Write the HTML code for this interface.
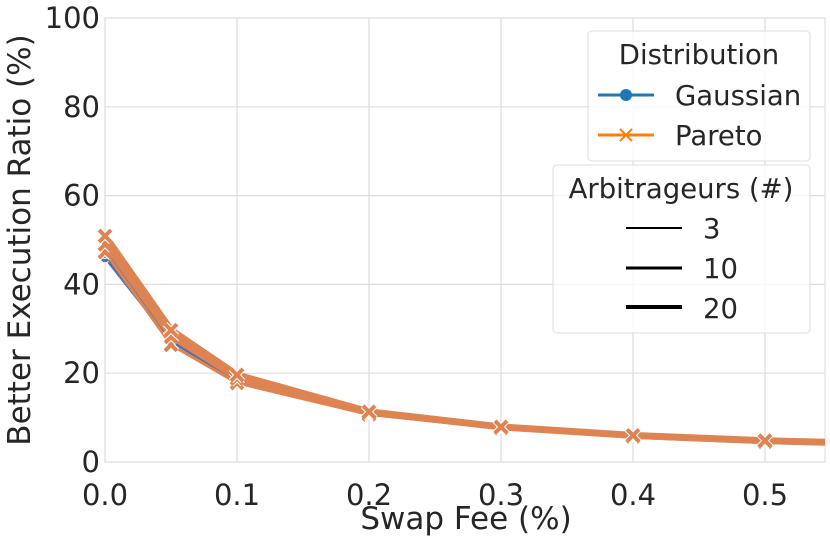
<!DOCTYPE html>
<html><head><meta charset="utf-8"><style>
body{margin:0;background:#fff;}
svg{display:block;font-family:"DejaVu Sans","Liberation Sans",sans-serif;}
</style></head><body>
<svg id="chart" width="830" height="541" viewBox="0 0 830 541">
<g id="grid"></g>
<g id="series"></g>
<g id="axes"></g>
<text x="466" y="529" font-size="31" fill="#262626" text-anchor="middle">Swap Fee (%)</text>
<text transform="translate(30,240) rotate(-90)" font-size="31" fill="#262626" text-anchor="middle">Better Execution Ratio (%)</text>
<g>
<rect x="588" y="31" width="222" height="130" rx="4" fill="#fff" fill-opacity="0.8" stroke="#ddd"/>
<text x="699" y="64" font-size="27.5" fill="#262626" text-anchor="middle">Distribution</text>
<g><line x1="598" y1="95" x2="654" y2="95" stroke="#1f77b4" stroke-width="3"/><circle cx="626" cy="95" r="6" fill="#1f77b4"/><text x="675" y="105" font-size="27.5" fill="#262626">Gaussian</text></g>
<g><line x1="598" y1="135" x2="654" y2="135" stroke="#ff7f0e" stroke-width="3"/><path d="M620 129 L632 141 M632 129 L620 141" stroke="#ff7f0e" stroke-width="2"/><text x="675" y="145" font-size="27.5" fill="#262626">Pareto</text></g>
</g>
<g>
<rect x="553" y="165" width="257" height="168" rx="4" fill="#fff" fill-opacity="0.8" stroke="#ddd"/>
<text x="681" y="198" font-size="27.5" fill="#262626" text-anchor="middle">Arbitrageurs (#)</text>
<g><line x1="626" y1="228" x2="682" y2="228" stroke="#000" stroke-width="2"/><text x="703" y="238" font-size="27.5" fill="#262626">3</text></g>
<g><line x1="626" y1="268" x2="682" y2="268" stroke="#000" stroke-width="3"/><text x="703" y="278" font-size="27.5" fill="#262626">10</text></g>
<g><line x1="626" y1="307" x2="682" y2="307" stroke="#000" stroke-width="4"/><text x="703" y="318" font-size="27.5" fill="#262626">20</text></g>
</g>
</svg>
<script>
const fees=[0,0.05,0.1,0.2,0.3,0.4,0.5,0.6];
const gauss3=[46,27.2,18.0,10.8,7.6,5.7,4.5,3.8];
const gauss10=[47,27.8,18.4,11.0,7.7,5.8,4.6,3.9];
const gauss20=[47.5,28.2,18.6,11.1,7.8,5.8,4.6,3.9];
const pareto3=[47.3,26.4,17.8,10.7,7.6,5.7,4.5,3.8];
const pareto10=[49,28.2,18.8,11.0,7.8,5.9,4.7,3.9];
const pareto20=[50.9,29.7,19.6,11.3,7.9,6.0,4.8,4.0];
const xTicks=[0,0.1,0.2,0.3,0.4,0.5];
const yTicks=[0,20,40,60,80,100];
const X0=105,X1=825,Y0=462,Y1=18;
const xs=v=>X0+v/0.1*132;
const ys=v=>Y0-(v/100)*(Y0-Y1);
const NS="http://www.w3.org/2000/svg";
function mk(t,a,p){const e=document.createElementNS(NS,t);for(const k in a)e.setAttribute(k,a[k]);p.appendChild(e);return e;}
const grid=document.getElementById('grid'),axes=document.getElementById('axes'),ser=document.getElementById('series');
mk('rect',{x:X0,y:Y1,width:X1-X0,height:Y0-Y1,fill:'#fff',stroke:'#ddd'},grid);
xTicks.forEach(t=>{
 const l=mk('line',{x1:xs(t),x2:xs(t),y1:Y1,y2:Y0,stroke:'#ddd','stroke-width':1.2},grid);
 
 
 const tx=mk('text',{x:xs(t),y:Y0+43,'font-size':29,fill:'#262626','text-anchor':'middle'},axes);
 tx.textContent=t.toFixed(1);
 
 
});
yTicks.forEach(t=>{
 const l=mk('line',{x1:X0,x2:X1,y1:ys(t),y2:ys(t),stroke:'#ddd','stroke-width':1.2},grid);
 
 
 const tx=mk('text',{x:X0-5,y:ys(t)+10,'font-size':29,fill:'#262626','text-anchor':'end'},axes);
 tx.textContent=t;
 
 
});
const cp=mk('clipPath',{id:'cp'},document.getElementById('chart'));
mk('rect',{x:X0-8,y:Y1,width:X1-X0+8,height:Y0-Y1+8},cp);
ser.setAttribute('clip-path','url(#cp)');
const list=[[gauss3,'#4c72b0',2.5,'o','gaussian-3'],[gauss10,'#4c72b0',4,'o','gaussian-10'],[gauss20,'#4c72b0',5,'o','gaussian-20'],
[pareto3,'#dd8452',3,'x','pareto-3'],[pareto10,'#dd8452',5,'x','pareto-10'],[pareto20,'#dd8452',7,'x','pareto-20']];
list.forEach(([d,c,w,m,n])=>{
 const g=mk('g',{},ser);
 
 
 mk('polyline',{points:d.map((v,i)=>xs(fees[i])+','+ys(v)).join(' '),fill:'none',stroke:c,'stroke-width':w,'stroke-linejoin':'round'},g);
 d.forEach((v,i)=>{
  const x=xs(fees[i]),y=ys(v);
  let p;
  if(m==='o')p=mk('circle',{cx:x,cy:y,r:5,fill:c,stroke:'#fff','stroke-width':1},g);
  else{
   mk('path',{d:`M${x-6} ${y-6}L${x+6} ${y+6}M${x+6} ${y-6}L${x-6} ${y+6}`,stroke:'#fff','stroke-width':6},g);
   p=mk('path',{d:`M${x-6} ${y-6}L${x+6} ${y+6}M${x+6} ${y-6}L${x-6} ${y+6}`,stroke:c,'stroke-width':4},g);
  }
  
  
 });
});
</script>
</body></html>
